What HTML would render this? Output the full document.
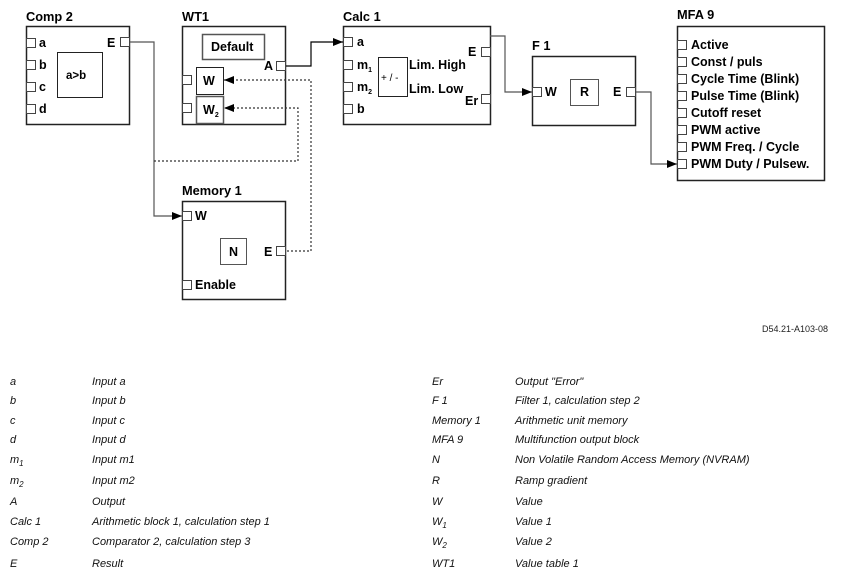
<!DOCTYPE html>
<html><head><meta charset="utf-8"><style>
html,body{margin:0;padding:0;background:#fff;}
svg{display:block;}
text{font-family:"Liberation Sans",Arial,sans-serif;}
.b{font-weight:bold;font-size:12.5px;fill:#000;}
.t{font-weight:bold;font-size:12.8px;}
.l{font-style:italic;font-size:11px;fill:#111;}
</style></head><body>
<svg width="842" height="576" viewBox="0 0 842 576" xmlns="http://www.w3.org/2000/svg">
<defs>
<marker id="ar" markerWidth="10" markerHeight="8" refX="10" refY="4" orient="auto" markerUnits="userSpaceOnUse"><path d="M0,0 L10,4 L0,8 z" fill="#000"/></marker>
</defs>
<g fill="none" stroke="#222" stroke-width="1.5">
<rect x="26.5" y="26.5" width="103" height="98"/>
<rect x="57.5" y="52.5" width="45" height="45" stroke-width="1"/>
<rect x="182.5" y="26.5" width="103" height="98"/>
<rect x="202.5" y="34.5" width="62" height="25" stroke="#555"/>
<rect x="196.5" y="67.5" width="27" height="27" stroke-width="1"/>
<rect x="196.5" y="96.5" width="27" height="27" stroke="#555"/>
<rect x="182.5" y="201.5" width="103" height="98"/>
<rect x="220.5" y="238.5" width="26" height="26" stroke="#555" stroke-width="1"/>
<rect x="343.5" y="26.5" width="147" height="98"/>
<rect x="378.5" y="57.5" width="29" height="39" stroke-width="1"/>
<rect x="532.5" y="56.5" width="103" height="69"/>
<rect x="570.5" y="79.5" width="28" height="26" stroke="#555" stroke-width="1"/>
<rect x="677.5" y="26.5" width="147" height="154"/>
</g>
<g fill="#fff" stroke="#444" stroke-width="1">
<rect x="26.5" y="38.5" width="9" height="9"/><rect x="26.5" y="60.5" width="9" height="9"/><rect x="26.5" y="82.5" width="9" height="9"/><rect x="26.5" y="104.5" width="9" height="9"/>
<rect x="120.5" y="37.5" width="9" height="9"/>
<rect x="276.5" y="61.5" width="9" height="9"/>
<rect x="182.5" y="75.5" width="9" height="9"/><rect x="182.5" y="103.5" width="9" height="9"/>
<rect x="182.5" y="211.5" width="9" height="9"/><rect x="182.5" y="280.5" width="9" height="9"/>
<rect x="276.5" y="246.5" width="9" height="9"/>
<rect x="343.5" y="37.5" width="9" height="9"/><rect x="343.5" y="60.5" width="9" height="9"/><rect x="343.5" y="82.5" width="9" height="9"/><rect x="343.5" y="104.5" width="9" height="9"/>
<rect x="481.5" y="47.5" width="9" height="9"/><rect x="481.5" y="94.5" width="9" height="9"/>
<rect x="532.5" y="87.5" width="9" height="9"/><rect x="626.5" y="87.5" width="9" height="9"/>
<rect x="677.5" y="40.5" width="9" height="9"/><rect x="677.5" y="57.5" width="9" height="9"/><rect x="677.5" y="74.5" width="9" height="9"/><rect x="677.5" y="91.5" width="9" height="9"/><rect x="677.5" y="108.5" width="9" height="9"/><rect x="677.5" y="125.5" width="9" height="9"/><rect x="677.5" y="142.5" width="9" height="9"/><rect x="677.5" y="159.5" width="9" height="9"/>
</g>
<g fill="none" stroke-width="1.2">
<polyline points="130,42 154,42 154,216 182,216" stroke="#555" marker-end="url(#ar)"/>
<polyline points="286,66 311,66 311,42 343,42" stroke="#000" marker-end="url(#ar)"/>
<polyline points="287,251 311,251 311,80 224,80" stroke="#333" stroke-dasharray="2,2" marker-end="url(#ar)"/>
<polyline points="154,161 298,161 298,108 224,108" stroke="#333" stroke-dasharray="2,2" marker-end="url(#ar)"/>
<polyline points="490,36 505,36 505,92 532,92" stroke="#555" marker-end="url(#ar)"/>
<polyline points="636,92 651,92 651,164 677,164" stroke="#555" marker-end="url(#ar)"/>
</g>
<text class="t" x="26" y="21">Comp 2</text>
<text class="t" x="182" y="21">WT1</text>
<text class="t" x="343" y="21">Calc 1</text>
<text class="t" x="532" y="50">F 1</text>
<text class="t" x="677" y="19">MFA 9</text>
<text class="t" x="182" y="195">Memory 1</text>
<g class="b">
<text x="39" y="47">a</text><text x="39" y="69">b</text><text x="39" y="91">c</text><text x="39" y="113">d</text>
<text x="107" y="47">E</text>
<text x="66" y="79" font-size="11.5">a&gt;b</text>
<text x="211" y="51">Default</text>
<text x="264" y="70">A</text>
<text x="203" y="85">W</text>
<text x="203" y="114">W<tspan font-size="7" dy="3">2</tspan></text>
<text x="195" y="220">W</text>
<text x="229" y="256">N</text>
<text x="264" y="256">E</text>
<text x="195" y="289">Enable</text>
<text x="357" y="46">a</text>
<text x="357" y="69">m<tspan font-size="7" dy="3">1</tspan></text>
<text x="357" y="91">m<tspan font-size="7" dy="3">2</tspan></text>
<text x="357" y="113">b</text>
<text x="381" y="81" font-weight="normal" font-size="10">+ / -</text>
<text x="409" y="69">Lim. High</text>
<text x="409" y="93">Lim. Low</text>
<text x="468" y="56">E</text>
<text x="465" y="105">Er</text>
<text x="545" y="96">W</text>
<text x="580" y="96">R</text>
<text x="613" y="96">E</text>
<text x="691" y="49">Active</text>
<text x="691" y="66">Const / puls</text>
<text x="691" y="83">Cycle Time (Blink)</text>
<text x="691" y="100">Pulse Time (Blink)</text>
<text x="691" y="117">Cutoff reset</text>
<text x="691" y="134">PWM active</text>
<text x="691" y="151">PWM Freq. / Cycle</text>
<text x="691" y="168">PWM Duty / Pulsew.</text>
</g>
<text x="762" y="332" font-size="9" fill="#222">D54.21-A103-08</text>
<g class="l">
<text x="10" y="385">a</text><text x="92" y="385">Input a</text>
<text x="10" y="404">b</text><text x="92" y="404">Input b</text>
<text x="10" y="424">c</text><text x="92" y="424">Input c</text>
<text x="10" y="443">d</text><text x="92" y="443">Input d</text>
<text x="10" y="463">m<tspan font-size="8" dy="3">1</tspan></text><text x="92" y="463">Input m1</text>
<text x="10" y="484">m<tspan font-size="8" dy="3">2</tspan></text><text x="92" y="484">Input m2</text>
<text x="10" y="505">A</text><text x="92" y="505">Output</text>
<text x="10" y="525">Calc 1</text><text x="92" y="525">Arithmetic block 1, calculation step 1</text>
<text x="10" y="545">Comp 2</text><text x="92" y="545">Comparator 2, calculation step 3</text>
<text x="10" y="567">E</text><text x="92" y="567">Result</text>
<text x="432" y="385">Er</text><text x="515" y="385">Output "Error"</text>
<text x="432" y="404">F 1</text><text x="515" y="404">Filter 1, calculation step 2</text>
<text x="432" y="424">Memory 1</text><text x="515" y="424">Arithmetic unit memory</text>
<text x="432" y="443">MFA 9</text><text x="515" y="443">Multifunction output block</text>
<text x="432" y="463">N</text><text x="515" y="463">Non Volatile Random Access Memory (NVRAM)</text>
<text x="432" y="484">R</text><text x="515" y="484">Ramp gradient</text>
<text x="432" y="505">W</text><text x="515" y="505">Value</text>
<text x="432" y="525">W<tspan font-size="8" dy="3">1</tspan></text><text x="515" y="525">Value 1</text>
<text x="432" y="545">W<tspan font-size="8" dy="3">2</tspan></text><text x="515" y="545">Value 2</text>
<text x="432" y="567">WT1</text><text x="515" y="567">Value table 1</text>
</g>
</svg>
</body></html>
